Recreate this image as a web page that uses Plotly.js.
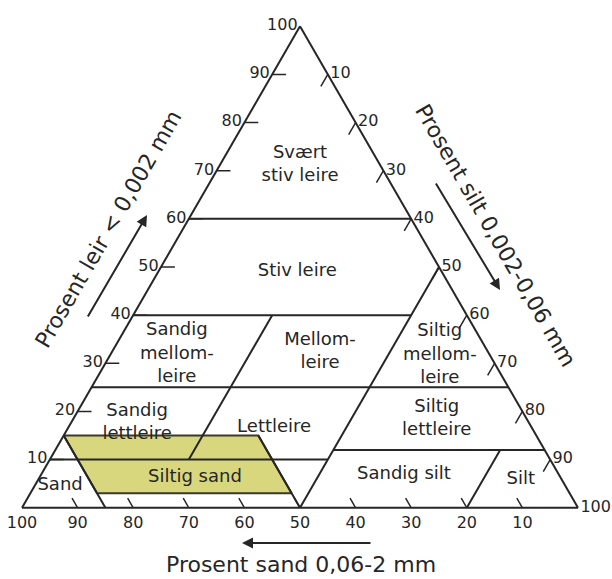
<!DOCTYPE html>
<html>
<head>
<meta charset="utf-8">
<script src="https://cdn.plot.ly/plotly-3.0.1.min.js"></script>
<style>html,body{margin:0;padding:0;background:#fff}</style>
</head>
<body>
<div id="chart" style="width:612px;height:579px"></div>
<script>
// ---- axis ticks (percent) ----
const tickLabelValues = [10, 20, 30, 40, 50, 60, 70, 80, 90, 100];
const tickMarkValues = [10, 20, 30, 40, 50, 60, 70, 80, 90];

// ---- class boundaries: clay % and silt % (sand = rest), null = break ----
const boundaryClay = [60, 60, null, 40, 40, null, 25, 25, null, 10, 10, null, 12, 12, null,
                      40, 10, null, 50, 0, null, 12, 0, null, 15, 0, null, 15, 0];
const boundarySilt = [0, 40, null, 0, 50, null, 0, 75, null, 0, 50, null, 50, 88, null,
                      25, 25, null, 50, 50, null, 80, 80, null, 0, 15, null, 35, 50];

// ---- highlighted (yellow) area ----
const highlightClay = [15, 15, 3, 3, 15];
const highlightSilt = [0, 35, 47, 12, 0];

// ---- class names and label positions ----
const classNames = ['Svært<br>stiv leire', 'Stiv leire', 'Sandig<br>mellom-<br>leire', 'Mellom-<br>leire',
                    'Siltig<br>mellom-<br>leire', 'Sandig<br>lettleire', 'Lettleire', 'Siltig<br>lettleire',
                    'Siltig sand', 'Sand', 'Sandig silt', 'Silt'];
const classClay = [71.2, 49.0, 31.9, 32.4, 31.7, 17.6, 16.7, 18.4, 6.2, 4.7, 7.0, 5.8];
const classSilt = [14.4, 25.0, 11.9, 37.4, 59.3, 11.9, 37.0, 65.4, 28.0, 4.5, 65.2, 86.8];

// ---- titles ----
const clayTitle = 'Prosent leir &lt; 0,002 mm';
const siltTitle = 'Prosent silt 0,002-0,06 mm';
const sandTitle = 'Prosent sand 0,06-2 mm';

const sandOf = (clay, silt) => clay.map((a, i) => (a === null ? null : 100 - a - silt[i]));

// tick marks along grid directions
const tickLenClay = 2.5, tickLenSilt = 2.5, tickLenSand = 2;
const tA = [], tC = [];
tickMarkValues.forEach(v => {
  tA.push(v, v, null); tC.push(0, tickLenClay, null);
  tA.push(100 - v, 100 - v - tickLenSilt, null); tC.push(v, v, null);
  tA.push(0, tickLenSand, null); tC.push(100 - v, 100 - v - tickLenSand, null);
});

const ink = '#262626';
const font = 'DejaVu Sans';

const traces = [
  {
    type: 'scatterternary', mode: 'lines',
    a: highlightClay, c: highlightSilt, b: sandOf(highlightClay, highlightSilt),
    fill: 'toself', fillcolor: '#d8d77e',
    line: {color: '#3a3a2a', width: 2}, hoverinfo: 'skip'
  },
  {
    type: 'scatterternary', mode: 'lines',
    a: boundaryClay, c: boundarySilt, b: sandOf(boundaryClay, boundarySilt),
    line: {color: ink, width: 2}, connectgaps: false, hoverinfo: 'skip'
  },
  {
    type: 'scatterternary', mode: 'lines',
    a: tA, c: tC, b: sandOf(tA, tC),
    line: {color: ink, width: 1.5}, connectgaps: false, hoverinfo: 'skip'
  },
  {
    type: 'scatterternary', mode: 'text',
    a: classClay, c: classSilt, b: sandOf(classClay, classSilt),
    text: classNames, textposition: 'middle center',
    textfont: {family: font, size: 18, color: ink},
    cliponaxis: false, hoverinfo: 'skip'
  }
];

const axisBase = {
  title: {text: ''},
  tickmode: 'array',
  tickvals: tickLabelValues,
  ticks: '',
  showgrid: false,
  showline: true,
  linecolor: ink,
  linewidth: 2,
  tickfont: {family: font, size: 16, color: ink}
};

const W = 556, H = 482, L = 22, T = 26;
const px = x => (x - L) / W;
const py = y => (T + H - y) / H;

const titleFont = {family: font, size: 22, color: ink};
const arrowStyle = {xref: 'paper', yref: 'paper', text: '', showarrow: true,
                    arrowhead: 2, arrowsize: 1.1, arrowwidth: 2, arrowcolor: ink};

const layout = {
  width: 612, height: 579,
  margin: {l: L, r: 612 - L - W, t: T, b: 579 - T - H},
  paper_bgcolor: '#fff',
  showlegend: false,
  ternary: {
    sum: 100,
    bgcolor: 'rgba(0,0,0,0)',
    aaxis: Object.assign({}, axisBase),
    baxis: Object.assign({}, axisBase),
    caxis: Object.assign({}, axisBase)
  },
  annotations: [
    {xref: 'paper', yref: 'paper', x: px(109), y: py(229), xanchor: 'center', yanchor: 'middle',
     text: clayTitle, textangle: -60, showarrow: false, font: titleFont},
    {xref: 'paper', yref: 'paper', x: px(496), y: py(235), xanchor: 'center', yanchor: 'middle',
     text: siltTitle, textangle: 60, showarrow: false, font: titleFont},
    {xref: 'paper', yref: 'paper', x: px(301), y: py(564), xanchor: 'center', yanchor: 'middle',
     text: sandTitle, showarrow: false, font: titleFont},
    Object.assign({x: px(147), y: py(215), ax: -60, ay: 103}, arrowStyle),
    Object.assign({x: px(500), y: py(290), ax: -65, ay: -108}, arrowStyle),
    Object.assign({x: px(242), y: py(543), ax: 130, ay: 0}, arrowStyle)
  ]
};

Plotly.newPlot('chart', traces, layout, {staticPlot: true, displayModeBar: false});
</script>
</body>
</html>
